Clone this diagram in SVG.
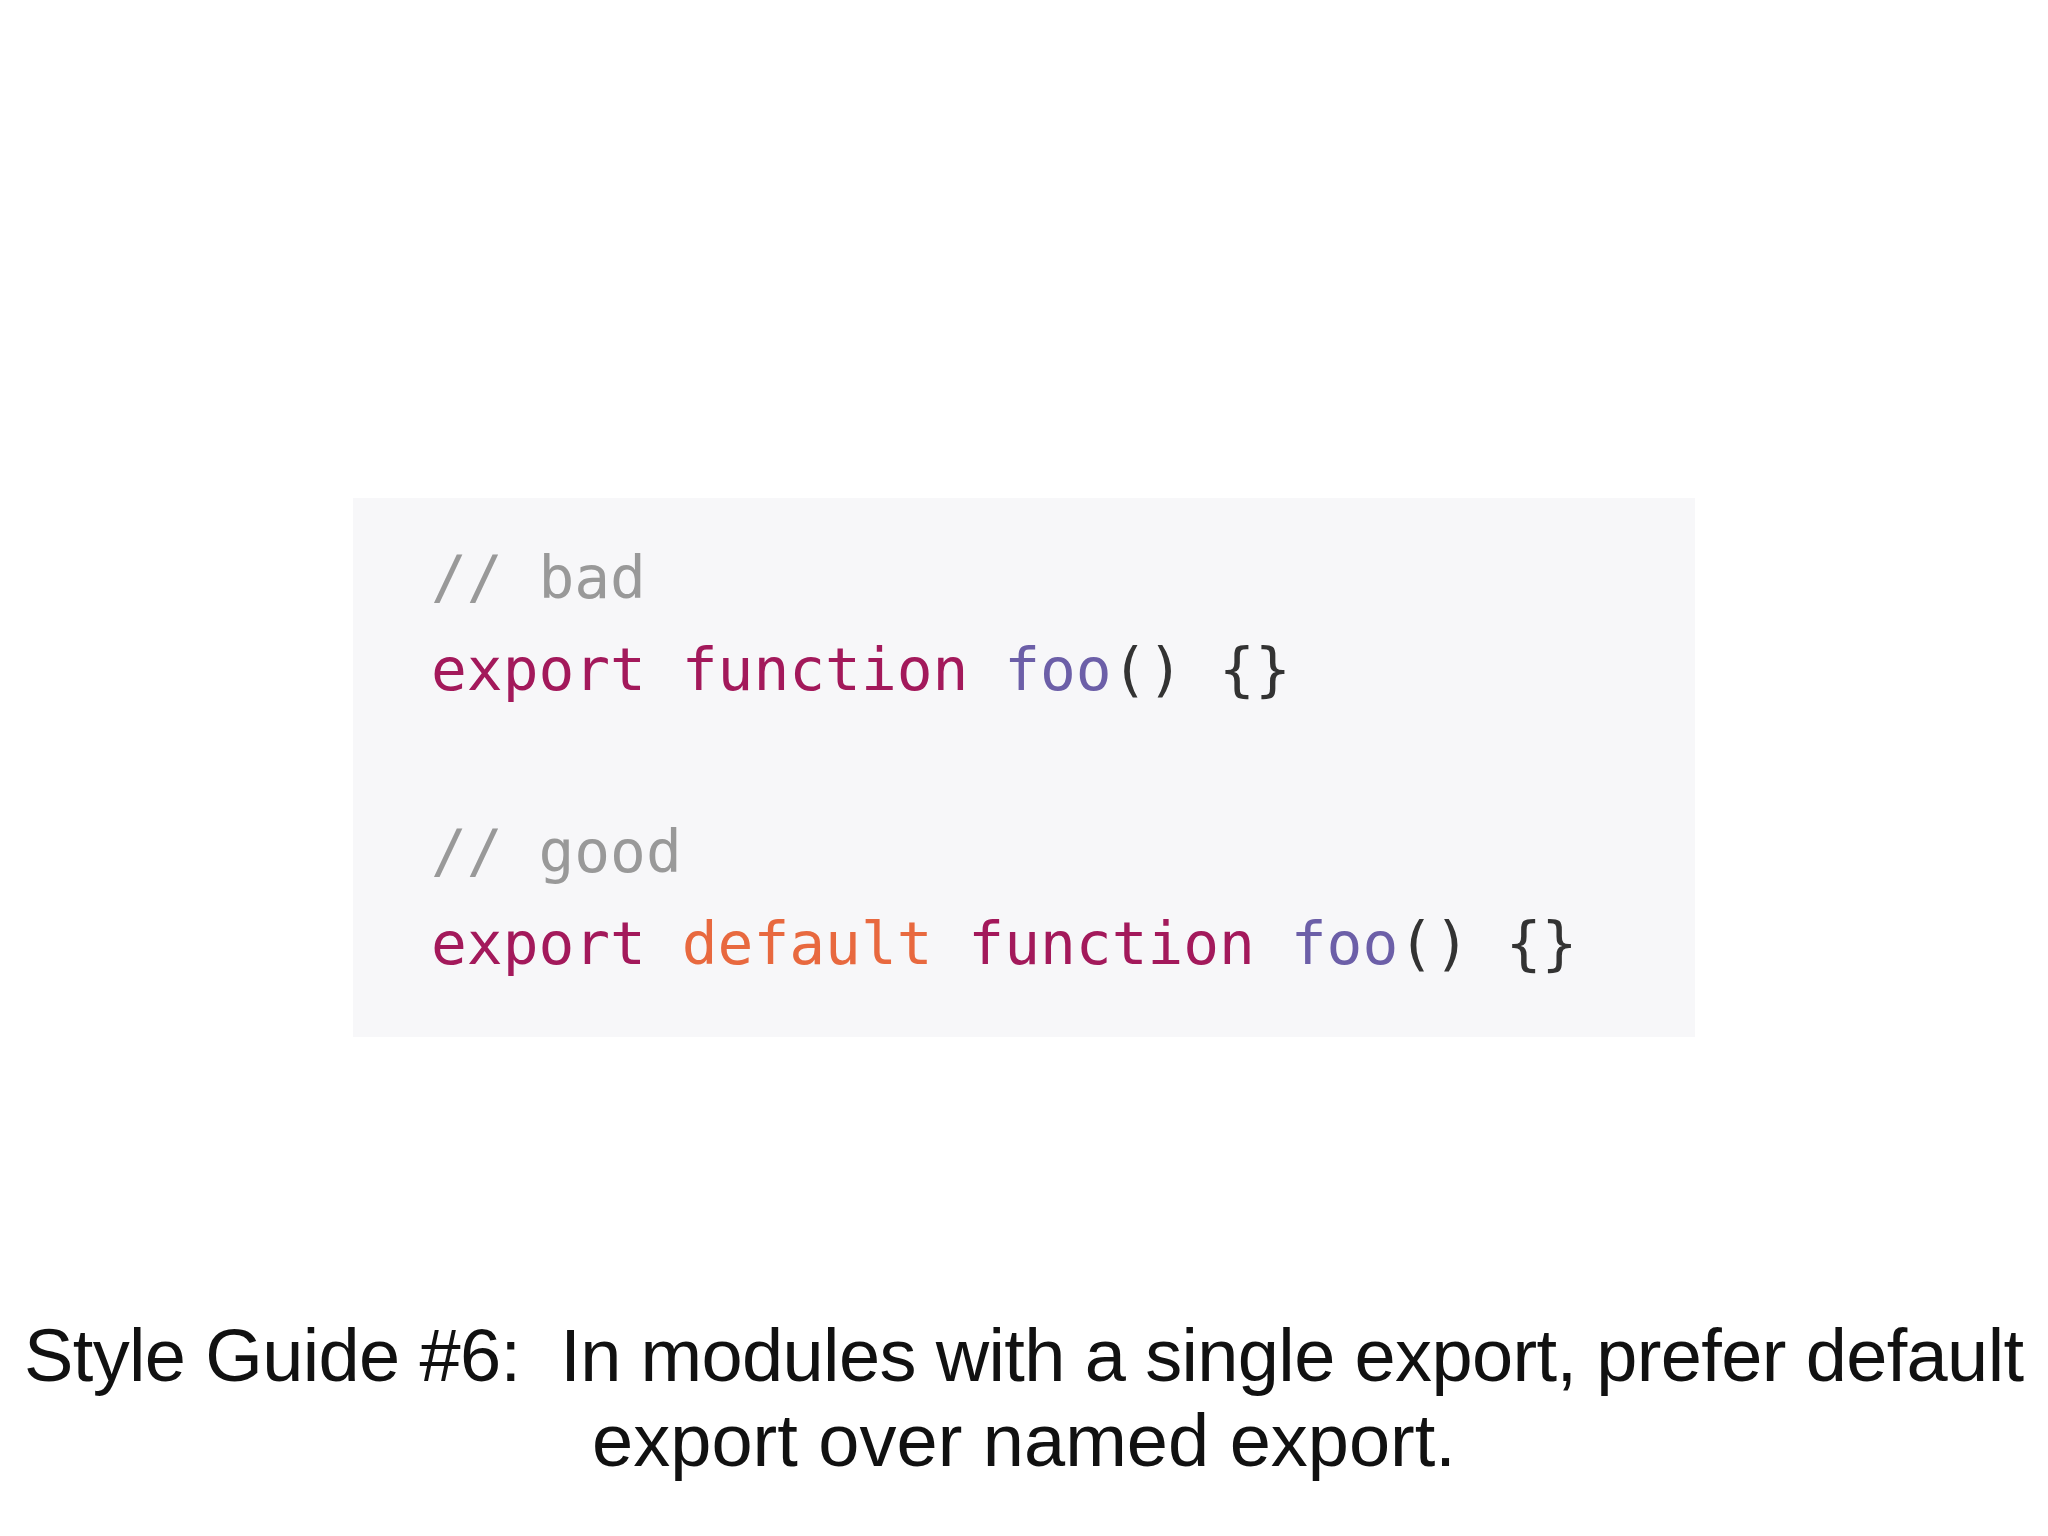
<svg xmlns="http://www.w3.org/2000/svg" width="2048" height="1536" viewBox="0 0 2048 1536">
<style>
.code{font-family:"DejaVu Sans Mono","Liberation Mono",monospace;font-size:59.5px}
.cm{fill:#999999}.kw{fill:#a3195b}.df{fill:#e8693f}.fn{fill:#6c5fa8}.pl{fill:#333333}
.cap{font-family:"Liberation Sans",Arial,sans-serif;font-size:74px;fill:#111111}
</style>
<rect width="2048" height="1536" fill="#ffffff"/>
<g id="code">
<rect x="353" y="498" width="1342" height="539" fill="#f7f7f9"/>
<text class="code" x="431" y="598"><tspan class="cm">// bad</tspan></text>
<text class="code" x="431" y="690" xml:space="preserve"><tspan class="kw">export</tspan> <tspan class="kw">function</tspan> <tspan class="fn">foo</tspan><tspan class="pl">() {}</tspan></text>
<text class="code" x="431" y="872"><tspan class="cm">// good</tspan></text>
<text class="code" x="431" y="964" xml:space="preserve"><tspan class="kw">export</tspan> <tspan class="df">default</tspan> <tspan class="kw">function</tspan> <tspan class="fn">foo</tspan><tspan class="pl">() {}</tspan></text>
</g>
<g id="caption">
<text class="cap" x="1024" y="1381" text-anchor="middle" xml:space="preserve" textLength="2000">Style Guide #6:  In modules with a single export, prefer default</text>
<text class="cap" x="1024" y="1466" text-anchor="middle">export over named export.</text>
</g>
</svg>
